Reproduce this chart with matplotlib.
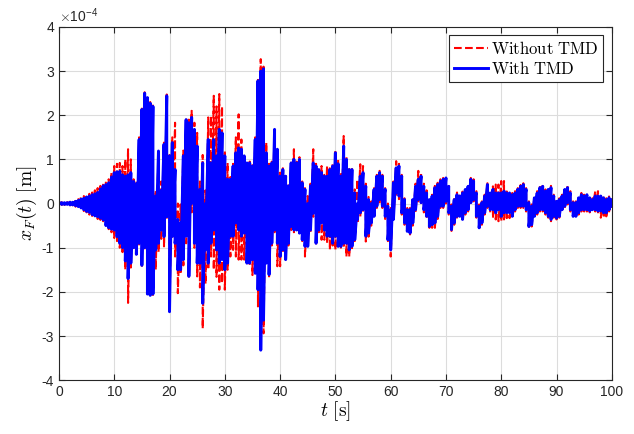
import numpy as np
import matplotlib.pyplot as plt
from matplotlib.ticker import FuncFormatter

plt.rcParams['mathtext.fontset'] = 'cm'
plt.rcParams['font.family'] = 'Liberation Sans'
plt.rcParams['axes.unicode_minus'] = False

# time grid of the envelope readings [s]
t = np.arange(0, 100.5, 0.5)

# envelopes, units of 1e-4 m, one value per 0.5 s
blue_up = [0.01, 0.02, 0.02, 0.02, 0.03, 0.03, 0.05, 0.07, 0.10, 0.12,
           0.15, 0.17, 0.20, 0.22, 0.25, 0.33, 0.40, 0.43, 0.47, 0.60,
           0.70, 0.72, 0.73, 0.65, 0.62, 0.65, 0.70, 0.50, 0.45, 1.45,
           2.13, 2.50, 2.40, 2.27, 2.20, 0.17, 1.19, 0.30, 1.34, 2.44,
           1.08, 1.38, 0.77, -0.36, -0.44, 1.08, 1.90, 1.83, 1.95, 1.68,
           1.30, 0.32, 0.92, 0.00, 1.45, 0.92, 1.45, 1.08, 1.68, 1.60,
           1.08, 0.55, 0.55, 0.85, 1.15, 1.26, 1.23, 1.08, 0.92, 0.92,
           0.85, 1.45, 2.78, 3.00, 3.05, 1.15, 0.85, 0.92, 1.68, 1.23,
           0.62, 0.77, 0.62, 0.40, 0.92, 1.00, 0.92, 1.00, 0.47, 0.32,
           0.00, 0.40, 0.92, 0.85, 0.77, 0.70, 0.62, 0.62, 0.77, 0.85,
           1.15, 0.90, 0.62, 1.30, 1.00, 0.77, 0.77, 0.24, 0.00, 0.62,
           0.70, 0.39, 0.09, 0.00, 0.32, 0.62, 0.70, 0.62, 0.32, -0.06,
           -0.14, 0.47, 0.81, 0.85, 0.62, 0.09, -0.14, -0.14, 0.09, 0.39,
           0.55, 0.62, 0.39, 0.24, 0.09, 0.17, 0.36, 0.43, 0.51, 0.55,
           0.58, 0.39, -0.06, 0.09, 0.20, 0.17, 0.24, 0.32, 0.39, 0.55,
           0.51, 0.24, -0.06, 0.02, 0.17, 0.43, 0.24, 0.32, 0.24, 0.24,
           0.24, 0.28, 0.24, 0.24, 0.20, 0.24, 0.32, 0.39, 0.43, 0.32,
           0.02, -0.06, 0.13, 0.24, 0.36, 0.39, 0.28, 0.32, 0.36, 0.17,
           0.05, 0.09, 0.17, 0.32, 0.36, 0.24, 0.02, 0.02, 0.13, 0.20,
           0.17, 0.20, 0.13, 0.09, 0.17, 0.17, 0.17, 0.13, 0.09, 0.13,
           0.09]
blue_lo = [-0.01, -0.02, -0.02, -0.02, -0.03, -0.03, -0.05, -0.07, -0.10, -0.14,
           -0.18, -0.20, -0.25, -0.28, -0.30, -0.33, -0.37, -0.50, -0.55, -0.58,
           -0.60, -0.75, -0.90, -1.00, -1.30, -1.70, -1.35, -1.00, -1.15, -0.90,
           -1.40, -1.00, -2.05, -2.08, -2.05, -1.05, -0.90, -0.60, -0.75, -0.30,
           -2.45, -0.74, -0.90, -1.50, -1.50, -1.27, -0.74, -1.65, 0.00, -0.90,
           -1.35, -1.35, -2.26, -1.05, -1.35, -0.90, -0.60, -1.05, -1.35, -1.27,
           -1.50, -1.35, -0.74, -0.74, -0.44, -0.60, -0.74, -0.67, -1.35, -1.35,
           -1.27, -1.58, -1.95, -3.32, -2.64, -1.35, -1.61, -0.90, -0.60, -0.90,
           -1.20, -1.05, -1.27, -0.90, -0.52, -0.60, -0.60, -0.67, -0.82, -0.97,
           -0.97, -0.60, -0.22, -0.90, -0.60, -0.44, -0.60, -0.74, -0.74, -0.90,
           -0.74, -0.97, -0.97, -0.90, -0.90, -1.05, -0.97, -0.82, -0.36, -0.21,
           -0.14, -0.74, -0.67, -0.44, -0.29, -0.06, 0.09, -0.06, -0.29, -0.82,
           -1.05, -0.36, 0.24, 0.17, -0.21, -0.44, -0.63, -0.67, -0.44, -0.14,
           0.09, 0.02, -0.14, -0.29, -0.52, -0.48, -0.44, -0.29, -0.06, -0.06,
           0.05, -0.21, -0.59, -0.44, -0.29, -0.29, -0.36, -0.21, -0.14, 0.02,
           0.09, -0.29, -0.55, -0.44, -0.21, -0.06, -0.14, -0.14, -0.21, -0.14,
           -0.29, -0.21, -0.21, -0.21, -0.29, -0.14, -0.06, -0.06, -0.06, -0.14,
           -0.52, -0.48, -0.29, -0.21, -0.14, -0.14, -0.21, -0.29, -0.36, -0.29,
           -0.33, -0.29, -0.14, -0.06, 0.02, -0.14, -0.29, -0.29, -0.21, -0.14,
           -0.14, -0.14, -0.17, -0.14, -0.14, -0.17, -0.17, -0.21, -0.21, -0.14,
           -0.06]
red_up = [0.01, 0.03, 0.03, 0.03, 0.04, 0.04, 0.07, 0.10, 0.15, 0.17,
          0.20, 0.22, 0.25, 0.30, 0.35, 0.40, 0.45, 0.50, 0.55, 0.70,
          0.85, 0.90, 0.92, 0.85, 1.00, 1.23, 1.00, 0.55, 0.50, 1.50,
          2.15, 2.52, 2.42, 2.30, 2.22, 0.30, 1.20, 0.50, 1.38, 2.47,
          1.10, 1.50, 1.83, 0.00, -0.02, 1.20, 1.95, 1.90, 2.10, 1.83,
          1.60, 0.50, 1.10, 0.30, 1.95, 1.98, 2.44, 2.20, 2.48, 2.20,
          1.20, 0.92, 0.60, 0.90, 1.50, 2.02, 1.45, 1.08, 0.95, 0.95,
          0.90, 1.50, 2.80, 3.27, 3.10, 1.38, 0.90, 0.95, 1.70, 1.25,
          0.70, 0.80, 0.65, 0.45, 0.95, 1.23, 0.95, 1.05, 0.50, 0.35,
          0.17, 0.45, 1.23, 0.90, 0.80, 0.85, 0.65, 0.85, 0.80, 0.90,
          1.20, 1.00, 0.70, 1.53, 1.05, 0.80, 0.80, 0.32, 0.55, 0.89,
          0.85, 0.45, 0.15, 0.05, 0.35, 0.65, 0.74, 0.65, 0.35, 0.00,
          -0.10, 0.50, 0.96, 0.90, 0.65, 0.12, -0.10, -0.10, 0.12, 0.45,
          0.74, 0.70, 0.45, 0.30, 0.12, 0.20, 0.40, 0.47, 0.55, 0.58,
          0.60, 0.42, -0.02, 0.12, 0.25, 0.20, 0.27, 0.35, 0.42, 0.58,
          0.55, 0.28, -0.02, 0.05, 0.20, 0.46, 0.28, 0.39, 0.43, 0.43,
          0.51, 0.51, 0.32, 0.28, 0.24, 0.28, 0.35, 0.42, 0.46, 0.35,
          0.05, -0.02, 0.16, 0.28, 0.40, 0.42, 0.32, 0.35, 0.40, 0.20,
          0.08, 0.12, 0.20, 0.35, 0.40, 0.28, 0.05, 0.05, 0.16, 0.24,
          0.20, 0.24, 0.16, 0.12, 0.28, 0.28, 0.20, 0.16, 0.12, 0.16,
          0.12]
red_lo = [-0.01, -0.03, -0.03, -0.03, -0.04, -0.04, -0.07, -0.09, -0.12, -0.17,
          -0.20, -0.25, -0.28, -0.30, -0.35, -0.37, -0.40, -0.52, -0.58, -0.65,
          -0.78, -0.85, -1.00, -1.10, -1.50, -2.25, -1.45, -1.05, -1.15, -0.95,
          -1.45, -1.05, -2.07, -2.10, -2.07, -1.50, -1.10, -0.80, -0.97, -0.35,
          -2.47, -0.80, -1.20, -2.03, -1.60, -1.40, -0.90, -1.70, -0.20, -1.00,
          -1.65, -1.90, -2.83, -1.82, -1.50, -1.20, -1.50, -1.66, -1.95, -1.80,
          -1.95, -1.50, -1.20, -1.05, -1.20, -1.27, -1.27, -1.27, -1.35, -1.40,
          -1.62, -1.60, -2.33, -3.30, -2.94, -1.40, -1.65, -0.95, -0.65, -1.42,
          -1.42, -1.10, -1.30, -0.95, -0.60, -0.65, -0.65, -0.67, -0.85, -1.20,
          -1.00, -0.65, -0.30, -0.95, -0.65, -0.82, -0.82, -0.90, -1.05, -0.95,
          -1.05, -1.00, -1.00, -1.00, -1.20, -1.20, -1.01, -0.85, -0.45, -0.30,
          -0.20, -0.86, -0.75, -0.50, -0.32, -0.10, 0.00, -0.10, -0.35, -0.85,
          -1.20, -0.40, 0.20, 0.10, -0.25, -0.48, -0.67, -0.70, -0.50, -0.20,
          0.05, -0.02, -0.20, -0.35, -0.55, -0.55, -0.55, -0.35, -0.10, -0.10,
          0.00, -0.25, -0.62, -0.48, -0.32, -0.32, -0.40, -0.25, -0.18, -0.02,
          0.05, -0.32, -0.59, -0.48, -0.25, -0.10, -0.20, -0.33, -0.36, -0.40,
          -0.40, -0.36, -0.33, -0.33, -0.32, -0.18, -0.10, -0.10, -0.10, -0.18,
          -0.55, -0.52, -0.33, -0.25, -0.18, -0.18, -0.25, -0.32, -0.40, -0.32,
          -0.36, -0.32, -0.18, -0.10, -0.02, -0.18, -0.32, -0.32, -0.25, -0.18,
          -0.18, -0.18, -0.20, -0.18, -0.18, -0.20, -0.32, -0.32, -0.29, -0.18,
          -0.10]


def zigzag(upper, lower):
    # swing between the two envelope readings at every time step
    x = np.repeat(t, 2)
    y = np.column_stack([upper, lower]).ravel() * 1e-4
    return x, y


fig = plt.figure(figsize=(6.34, 4.34), dpi=100)
ax = fig.add_axes([0.093, 0.124, 0.872, 0.814])

ax.plot(*zigzag(red_up, red_lo), '--', color='red', lw=1.5,
        label=r'$\mathrm{Without\ TMD}$')
ax.plot(*zigzag(blue_up, blue_lo), '-', color='blue', lw=2.1,
        label=r'$\mathrm{With\ TMD}$')

ax.set_xlim(0, 100)
ax.set_ylim(-4e-4, 4e-4)
ax.set_xticks(np.arange(0, 101, 10))
ax.set_yticks(np.arange(-4, 5, 1) * 1e-4)
ax.yaxis.set_major_formatter(FuncFormatter(lambda v, _: '%g' % round(v * 1e4, 6)))
ax.text(0.0, 1.005, r'$\times\mathregular{10^{-4}}$', transform=ax.transAxes,
        fontsize=10, color='#262626', ha='left', va='bottom')

ax.grid(True, color='#dcdcdc', lw=0.8)
ax.set_axisbelow(True)
ax.tick_params(direction='in', length=4, width=0.8, top=True, right=True,
               labelsize=10, colors='#262626')
for s in ax.spines.values():
    s.set_color('#262626')
    s.set_linewidth(0.8)

ax.set_xlabel(r'$t\ \mathrm{[s]}$', fontsize=14, labelpad=0)
ax.set_ylabel(r'$x_F(t)\ \mathrm{[m]}$', fontsize=14, labelpad=2)

leg = ax.legend(loc='upper right', fontsize=12, handlelength=2.0,
                handletextpad=0.2, borderpad=0.3, labelspacing=0.15,
                fancybox=False, framealpha=1, borderaxespad=0.5)
leg.get_frame().set_edgecolor('#262626')
leg.get_frame().set_linewidth(0.8)

fig.savefig('out.png', dpi=100)
